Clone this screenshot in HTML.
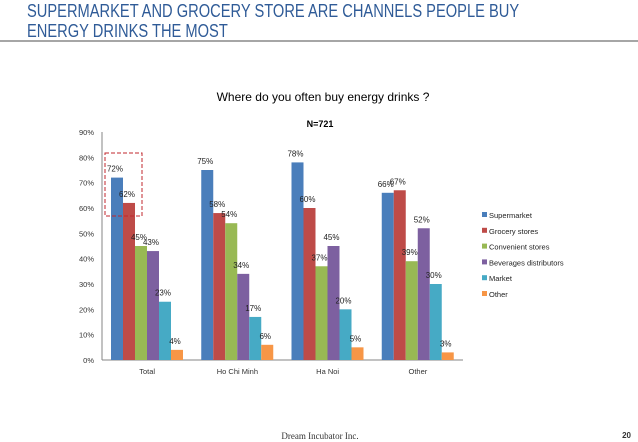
<!DOCTYPE html>
<html><head><meta charset="utf-8"><style>
body{margin:0;width:638px;height:442px;background:#fff;overflow:hidden;font-family:"Liberation Sans",sans-serif;position:relative}
.t{position:absolute;left:27px;top:1px;font-size:18px;line-height:20px;color:#2f5b97;white-space:nowrap;transform:scaleX(0.815);transform-origin:0 0}
</style></head><body>
<div class="t">SUPERMARKET AND GROCERY STORE ARE CHANNELS PEOPLE BUY<br>ENERGY DRINKS THE MOST</div>
<div style="position:absolute;left:0;top:40px;width:638px;height:2px;background:#a6a6a6"></div>
<svg id="c" width="638" height="442" style="position:absolute;left:0;top:0"></svg>
<script>
const categories=["Total","Ho Chi Minh","Ha Noi","Other"];
const seriesNames=["Supermarket","Grocery stores","Convenient stores","Beverages distributors","Market","Other"];
const supermarket=[72,75,78,66];
const grocery=[62,58,60,67];
const convenient=[45,54,37,39];
const beverages=[43,34,45,52];
const market=[23,17,20,30];
const other=[4,6,5,3];
const series=[supermarket,grocery,convenient,beverages,market,other];
const colors=["#4a7ebb","#be4b48","#98b954","#7d60a0","#46aac5","#f79646"];
const yTicks=[0,10,20,30,40,50,60,70,80,90];
const svg=document.getElementById('c');const NS="http://www.w3.org/2000/svg";
function mk(t,a,txt){const e=document.createElementNS(NS,t);for(const k in a)e.setAttribute(k,a[k]);if(txt!==undefined)e.textContent=txt;svg.appendChild(e);return e;}
const x0=102,x1=463,y0=360,yTop=132;
const y=v=>y0-(v/90)*(y0-yTop);
const gw=(x1-x0)/categories.length,bw=12;
const x=(g,s)=>x0+g*gw+9+s*bw;
let e=mk('text',{x:323,y:101,'font-size':12,'text-anchor':'middle',fill:'#000'},'Where do you often buy energy drinks ?');

e=mk('text',{x:320,y:127,'font-size':9,'font-weight':'bold','text-anchor':'middle',fill:'#000'},'N=721');

e=mk('line',{x1:x0,y1:yTop,x2:x0,y2:y0,stroke:'#868686'});

e=mk('line',{x1:x0,y1:y0,x2:x1,y2:y0,stroke:'#868686'});

yTicks.forEach(v=>{const t=mk('text',{x:94,y:y(v)+3,'font-size':7.5,'text-anchor':'end',fill:'#333'},v+'%');
});
categories.forEach((c,g)=>{const t=mk('text',{x:x0+g*gw+gw/2,y:374,'font-size':7.5,'text-anchor':'middle',fill:'#333'},c);

series.forEach((s,i)=>{const v=s[g];const r=mk('rect',{x:x(g,i),y:y(v),width:bw,height:y0-y(v),fill:colors[i]});

const l=mk('text',{x:x(g,i)+bw/2-2,y:y(v)-6,'font-size':8,'text-anchor':'middle',fill:'#222'},v+'%');
});});
e=mk('rect',{x:105,y:153,width:37,height:63,fill:'none',stroke:'#c0272d','stroke-width':1,'stroke-dasharray':'4,2'});

seriesNames.forEach((n,i)=>{const yy=215+i*15.8;
const r=mk('rect',{x:482,y:yy-3,width:5,height:5,fill:colors[i]});

const t=mk('text',{x:489,y:yy+3,'font-size':7.5,fill:'#222'},n);
});
e=mk('text',{x:320,y:439,'font-size':9,'font-family':'Liberation Serif','text-anchor':'middle',fill:'#333'},'Dream Incubator Inc.');

e=mk('text',{x:631,y:438,'font-size':8,'font-weight':'bold','text-anchor':'end',fill:'#333'},'20');

</script>
</body></html>
